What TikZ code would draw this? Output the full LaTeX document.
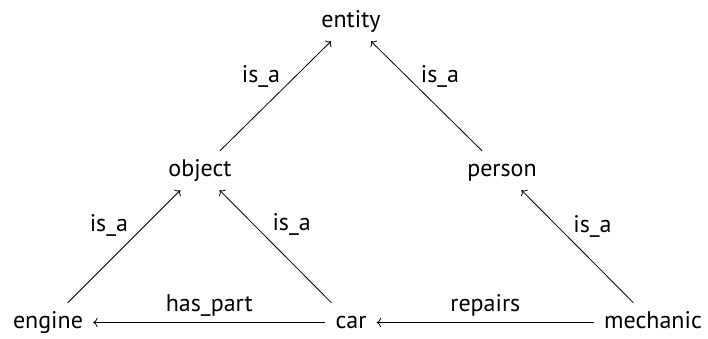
\documentclass[tikz,border=0pt]{standalone}
\usepackage{fontspec}
\setmainfont{PT Sans}
\usetikzlibrary{arrows.meta}
\begin{document}
\begin{tikzpicture}[x=1pt,y=-1pt,
  concept/.style={font=\fontsize{24}{28}\selectfont, text height=17pt, text depth=6pt, inner xsep=10pt, inner ysep=8pt, anchor=base},
  rel/.style={font=\fontsize{24}{28}\selectfont, inner sep=0pt},
  link/.style={-{To[scale=1.3]}, line width=0.8pt}]
\useasboundingbox (0,0) rectangle (708,338);
\node[concept] (entity) at (351,27) {entity};
\node[concept] (object) at (200,176) {object};
\node[concept] (person) at (502,176) {person};
\node[concept] (engine) at (48,328) {engine};
\node[concept] (car) at (351,328) {car};
\node[concept] (mechanic) at (653,328) {mechanic};
\draw[link] (object) -- node[rel, pos=0.68, anchor=east, xshift=-15pt] {is\_a} (entity);
\draw[link] (person) -- node[rel, pos=0.68, anchor=west, xshift=14pt] {is\_a} (entity);
\draw[link] (engine) -- node[rel, pos=0.69, anchor=east, xshift=-17pt] {is\_a} (object);
\draw[link] (car) -- node[rel, pos=0.70, anchor=west, xshift=19pt] {is\_a} (object);
\draw[link] (mechanic) -- node[rel, pos=0.675, anchor=west, xshift=15pt] {is\_a} (person);
\draw[link] (car) -- node[rel, midway, anchor=base, yshift=11pt] {has\_part} (engine);
\draw[link] (mechanic) -- node[rel, midway, anchor=base, yshift=11pt] {repairs} (car);
\end{tikzpicture}
\end{document}
